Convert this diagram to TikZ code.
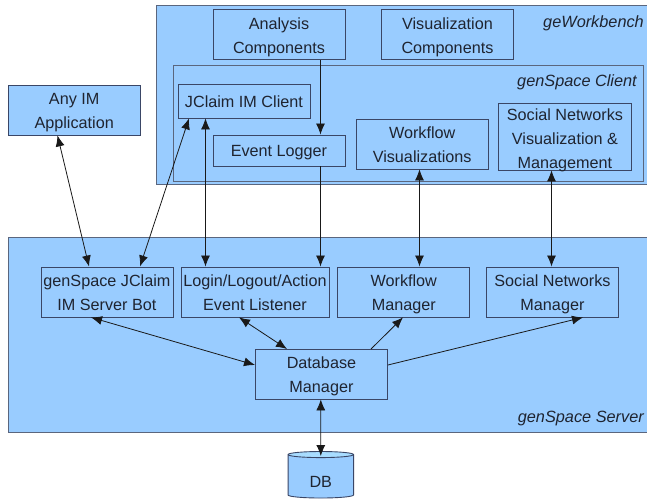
\documentclass[tikz,border=0pt]{standalone}
\usepackage{fontspec}
\setmainfont{Liberation Sans}
\usetikzlibrary{arrows.meta,calc,shapes.geometric}
\definecolor{fillblue}{HTML}{99CCFF}
\definecolor{toplight}{HTML}{A8DCFF}
\definecolor{edgedark}{HTML}{3A4666}
\definecolor{groupedge}{HTML}{5A667E}
\definecolor{inktext}{HTML}{1F2430}
\newcommand{\firststrut}{\rule{0pt}{17pt}}
\newcommand{\laststrut}{\rule[-4pt]{0pt}{4pt}}
\tikzset{
  x=1pt,y=-1pt,
  boxnode/.style={draw=edgedark,fill=fillblue,line width=0.9pt,inner sep=0pt,anchor=north west,
    align=center,text=inktext,font=\fontsize{16.2}{24.3}\selectfont},
  groupnode/.style={draw=groupedge,fill=fillblue,line width=1.2pt,inner sep=0pt,anchor=north west},
  tag/.style={inner sep=0pt,anchor=east,text=inktext,font=\fontsize{16.3}{20}\selectfont\itshape},
  both/.style={line width=0.8pt,draw=black!90,{Latex[length=11pt,width=9pt]}-{Latex[length=11pt,width=9pt]}},
  one/.style={line width=0.8pt,draw=black!90,-{Latex[length=11pt,width=9pt]}}
}
\begin{document}
\begin{tikzpicture}
\useasboundingbox (0,0) rectangle (647,500);
\clip (0,0) rectangle (647,500);
\fill[white] (0,0) rectangle (647,500);
% groups
\node[groupnode,minimum width=510pt,minimum height=179pt] (wb) at (156,5) {};
\node[groupnode,minimum width=470.2pt,minimum height=115.5pt] (client) at (172.5,65) {};
\node[groupnode,minimum width=660pt,minimum height=195pt] (server) at (7.5,236.5) {};
\node[tag] (wbtag) at (644,23) {geWorkbench};
\node[tag] (cltag) at (637,82) {genSpace Client};
\node[tag] (srtag) at (644,418) {genSpace Server};
% boxes
\node[boxnode,minimum width=132pt,minimum height=50pt] (analysis) at (212.5,9.5) {\firststrut Analysis\\Components\laststrut};
\node[boxnode,minimum width=132pt,minimum height=50pt] (viz) at (381,9.5) {\firststrut Visualization\\Components\laststrut};
\node[boxnode,minimum width=132pt,minimum height=33.5pt] (jclaim) at (177.5,84) {\firststrut JClaim IM Client\laststrut};
\node[boxnode,minimum width=132pt,minimum height=31pt] (logger) at (212.5,134.5) {\firststrut Event Logger\laststrut};
\node[boxnode,minimum width=132pt,minimum height=50pt] (wfviz) at (355.7,118.5) {\firststrut Workflow\\Visualizations\laststrut};
\node[boxnode,minimum width=132.4pt,minimum height=66pt] (socviz) at (498.3,103.5) {\rule{0pt}{15pt}Social Networks\\Visualization \&\\\smash{Management}};
\node[boxnode,minimum width=132.5pt,minimum height=49.5pt] (anyim) at (7.5,85) {\firststrut Any IM\\Application\laststrut};
\node[boxnode,minimum width=132pt,minimum height=50pt] (bot) at (40.5,266.5) {\firststrut genSpace JClaim\\IM Server Bot\laststrut};
\node[boxnode,minimum width=148pt,minimum height=50pt] (login) at (180.5,266.5) {\firststrut Login/Logout/Action\\Event Listener\laststrut};
\node[boxnode,minimum width=132pt,minimum height=50pt] (wfman) at (337.3,266.5) {\firststrut Workflow\\Manager\laststrut};
\node[boxnode,minimum width=132pt,minimum height=50pt] (socman) at (486,266.5) {\firststrut Social Networks\\Manager\laststrut};
\node[boxnode,minimum width=132pt,minimum height=49.5pt] (dbman) at (255,349) {\firststrut Database\\Manager\laststrut};
\node[draw=edgedark,line width=0.9pt,cylinder,shape border rotate=90,aspect=0.27,
  cylinder uses custom fill,cylinder body fill=fillblue,cylinder end fill=toplight,
  minimum width=65.5pt,minimum height=46.5pt,inner sep=0pt,text=inktext,
  font=\fontsize{16.2}{24}\selectfont] (db) at (320.8,476.5) {\raisebox{-11pt}[0pt][0pt]{DB}};
% connectors
\draw[both] ($(anyim.south west)+(50,0)$) -- ($(bot.north west)+(48.5,0)$);
\draw[both] ($(jclaim.south west)+(11.5,0)$) -- ($(bot.north west)+(99.5,0)$);
\draw[both] ($(jclaim.south west)+(28,0)$) -- ($(login.north west)+(25,0)$);
\draw[one] ($(analysis.south west)+(108,0)$) -- ($(logger.north west)+(108,0)$);
\draw[one] ($(logger.south west)+(108,0)$) -- ($(login.north west)+(140,0)$);
\draw[both] ($(wfviz.south west)+(63.8,0)$) -- ($(wfman.north west)+(82.2,0)$);
\draw[both] ($(socviz.south west)+(53.2,0)$) -- ($(socman.north west)+(65.5,0)$);
\draw[both] ($(bot.south west)+(50.5,0)$) -- ($(dbman.north west)+(0,16)$);
\draw[both] ($(login.south west)+(58.5,0)$) -- ($(dbman.north west)+(32,0)$);
\draw[one] ($(dbman.north west)+(116,0)$) -- ($(wfman.south west)+(65.7,0)$);
\draw[one] ($(dbman.north east)+(0,16)$) -- ($(socman.south west)+(97,0)$);
\draw[both] (dbman.south -| db.center) -- ($(db.north)+(0,5)$);
\end{tikzpicture}
\end{document}
